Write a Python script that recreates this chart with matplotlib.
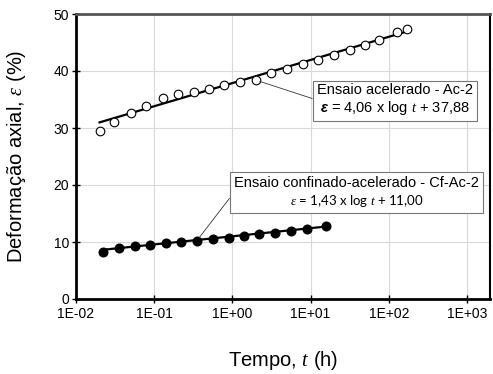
import numpy as np
import matplotlib.pyplot as plt
from matplotlib.ticker import FixedLocator, FixedFormatter, NullLocator
from matplotlib.offsetbox import TextArea, VPacker, AnnotationBbox

plt.rcParams['font.family'] = ['Liberation Sans', 'DejaVu Sans']
plt.rcParams['mathtext.fontset'] = 'custom'
plt.rcParams['mathtext.it'] = 'Liberation Serif:italic'
plt.rcParams['mathtext.rm'] = 'Liberation Sans'
plt.rcParams['mathtext.bfit'] = 'Liberation Sans:italic:bold'

# Ensaio acelerado - Ac-2 (open circles)
t_ac = [0.020, 0.031, 0.050, 0.078, 0.13, 0.20, 0.32, 0.50, 0.79, 1.26, 2.0,
        3.16, 5.0, 8.0, 12.6, 20, 32, 50, 74, 126, 170]
eps_ac = [29.4, 31.0, 32.6, 33.9, 35.3, 36.0, 36.3, 36.8, 37.5, 38.1, 38.4,
          39.6, 40.4, 41.2, 42.0, 42.8, 43.7, 44.6, 45.4, 46.8, 47.4]

# Ensaio confinado-acelerado - Cf-Ac-2 (filled circles)
t_cf = [0.022, 0.035, 0.056, 0.089, 0.14, 0.22, 0.35, 0.56, 0.91, 1.4, 2.2,
        3.5, 5.6, 8.9, 15.8]
eps_cf = [8.25, 8.9, 9.25, 9.5, 9.8, 10.05, 10.2, 10.5, 10.75, 11.1, 11.35,
          11.6, 12.0, 12.3, 12.75]

# log fits from the legend boxes
fit_ac = (4.06, 37.88)
fit_cf = (1.43, 11.00)

xticks = [1e-2, 1e-1, 1e0, 1e1, 1e2, 1e3]
xlabels = ['1E-02', '1E-01', '1E+00', '1E+01', '1E+02', '1E+03']

fig = plt.figure(figsize=(4.93, 3.74), dpi=100)
ax = fig.add_axes([76 / 493, 1 - 299 / 374, (490 - 76) / 493, (299 - 14) / 374])
ax.set_xscale('log')
ax.set_xlim(1e-2, 10 ** (3 + 23 / 78.2))
ax.set_ylim(0, 50)

ax.grid(True, color='#d9d9d9', lw=0.8)
ax.set_axisbelow(True)

tt = np.logspace(np.log10(t_ac[0]), np.log10(t_ac[-1]), 50)
ax.plot(tt, fit_ac[0] * np.log10(tt) + fit_ac[1], color='black', lw=1.6, zorder=2)
tt = np.logspace(np.log10(t_cf[0]), np.log10(t_cf[-1]), 50)
ax.plot(tt, fit_cf[0] * np.log10(tt) + fit_cf[1], color='black', lw=1.6, zorder=2)

ax.plot(t_ac, eps_ac, 'o', ms=6.2, mfc='white', mec='black', mew=0.8, zorder=3)
ax.plot(t_cf, eps_cf, 'o', ms=6.2, mfc='black', mec='black', zorder=3)

ax.xaxis.set_major_locator(FixedLocator(xticks))
ax.xaxis.set_major_formatter(FixedFormatter(xlabels))
ax.xaxis.set_minor_locator(NullLocator())
ax.set_yticks([0, 10, 20, 30, 40, 50])
ax.tick_params(direction='inout', length=6, width=1, labelsize=10)
ax.tick_params(axis='x', pad=3)
ax.tick_params(axis='y', pad=2)

for s in ['left', 'bottom']:
    ax.spines[s].set_linewidth(2)
    ax.spines[s].set_color('black')
ax.spines['top'].set_linewidth(2)
ax.spines['top'].set_color('#555555')
ax.spines['right'].set_linewidth(1.5)
ax.spines['right'].set_color('black')

ax.set_ylabel(r'Deformação axial, $\mathit{\varepsilon}$ (%)', fontsize=14.5, labelpad=18)
ax.set_xlabel(r'Tempo, $\mathit{t}$ (h)', fontsize=14.5, labelpad=20)

box = dict(boxstyle='square,pad=0.3', fc='white', ec='#777777', lw=0.8)
ax.annotate('Ensaio acelerado - Ac-2\n' + r'$\mathbfit{\varepsilon}$ = 4,06 x log $t$ + 37,88',
            xy=(t_ac[10], eps_ac[10]), xytext=(120, 34.9), ha='center', va='center',
            fontsize=10.5, bbox=box, linespacing=1.15,
            arrowprops=dict(arrowstyle='-', color='#333333', lw=0.6,
                            shrinkA=0, shrinkB=3, relpos=(0, 0.5)), zorder=5)

# second box: title in Arial, equation in a Calibri-like face
lines = VPacker(children=[
    TextArea('Ensaio confinado-acelerado - Cf-Ac-2', textprops=dict(fontsize=10.5)),
    TextArea(r'$\varepsilon$ = 1,43 x log $t$ + 11,00',
             textprops=dict(fontsize=9.5, family='Lato')),
], align='center', pad=0, sep=2)
ab = AnnotationBbox(lines, (t_cf[6], eps_cf[6]), xybox=(38.6, 18.7), boxcoords='data',
                    box_alignment=(0.5, 0.5), pad=0.3,
                    bboxprops=dict(boxstyle='square', fc='white', ec='#777777', lw=0.8),
                    arrowprops=dict(arrowstyle='-', color='#333333', lw=0.6,
                                    shrinkA=0, shrinkB=3, relpos=(0, 0.5)), zorder=5)
ax.add_artist(ab)

fig.savefig('out.png', dpi=100)
